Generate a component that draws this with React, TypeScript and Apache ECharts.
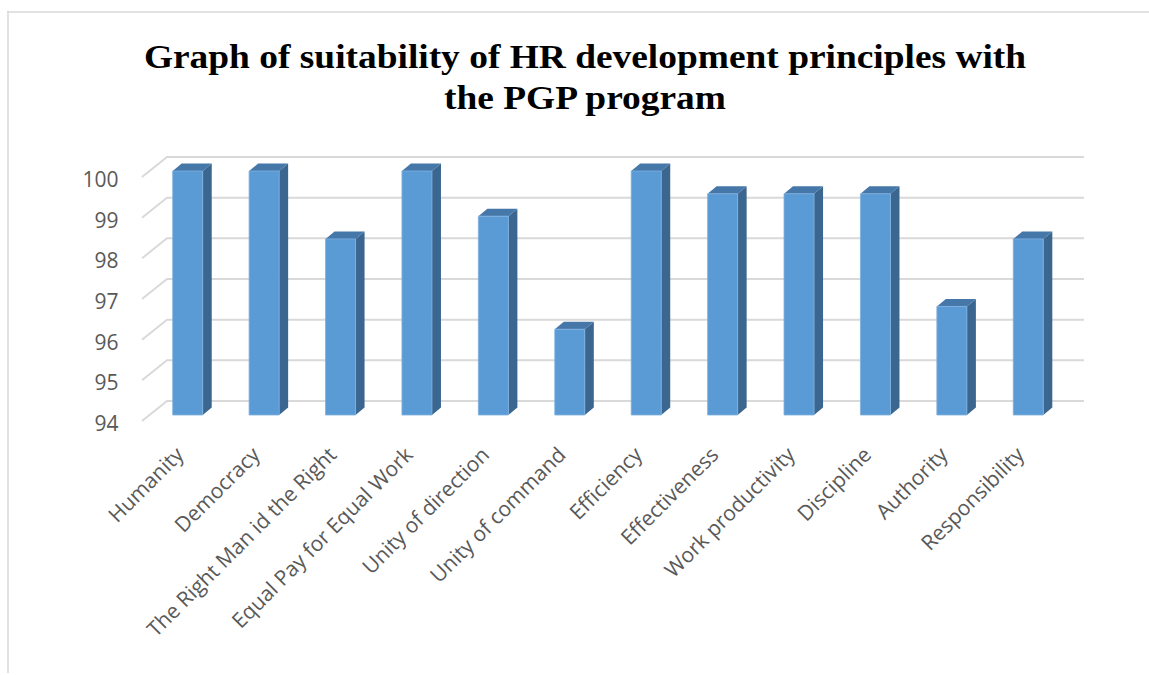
import React, { useEffect, useRef } from "react";
import * as echarts from "echarts";

const categories = [
  "Humanity",
  "Democracy",
  "The Right Man id the Right",
  "Equal Pay for Equal Work",
  "Unity of direction",
  "Unity of command",
  "Efficiency",
  "Effectiveness",
  "Work productivity",
  "Discipline",
  "Authority",
  "Responsibility",
];
const values = [100, 100, 98.33, 100, 98.89, 96.11, 100, 99.44, 99.44, 99.44, 96.67, 98.33];
const yTicks = [94, 95, 96, 97, 98, 99, 100];
const titleText = "Graph of suitability of HR development principles with\nthe PGP program";

const Y_MIN = 94;
const Y_MAX = 100;

export default function App() {
  const ref = useRef<HTMLDivElement>(null);
  useEffect(() => {
    if (!ref.current) return;
    const chart = echarts.init(ref.current, null, { renderer: "svg" });
    const DX = 9;
    const DY = -7.5;
    const option = {
      animation: false,
      backgroundColor: "#ffffff",
      grid: { left: 149.5, top: 171, width: 917, height: 244, containLabel: false },
      xAxis: {
        type: "category",
        data: categories,
        axisLine: { show: false },
        axisTick: { show: false },
        splitLine: { show: false },
        axisLabel: {
          interval: 0,
          rotate: 45,
          margin: 27,
          padding: [0, 12, 0, 0],
          color: "#595959",
          fontSize: 21,
          fontFamily: "Open Sans",
        },
      },
      yAxis: {
        type: "value",
        min: Y_MIN,
        max: Y_MAX,
        interval: 1,
        axisLine: { show: false },
        axisTick: { show: false },
        splitLine: { show: false },
        axisLabel: {
          margin: 31,
          color: "#595959",
          fontSize: 21,
          fontFamily: "Open Sans",
          verticalAlign: "top",
          lineHeight: 16,
        },
      },
      graphic: [
        {
          type: "line",
          shape: { x1: 7, y1: 12, x2: 1149, y2: 12 },
          style: { stroke: "#d9d9d9", lineWidth: 1.5 },
        },
        {
          type: "line",
          shape: { x1: 8, y1: 11, x2: 8, y2: 673 },
          style: { stroke: "#d9d9d9", lineWidth: 1.5 },
        },
        {
          type: "text",
          x: 585,
          y: 78,
          scaleX: 1.134,
          style: {
            text: titleText,
            fontFamily: "Liberation Serif",
            fontWeight: "bold",
            fontSize: 33,
            lineHeight: 41,
            align: "center",
            verticalAlign: "middle",
            fill: "#000000",
          },
        },
      ],
      series: [
        {
          type: "custom",
          z: 1,
          silent: true,
          data: yTicks.map((t) => [0, t]),
          renderItem: (params: any, api: any) => {
            const cs = params.coordSys;
            const y = api.coord([0, api.value(1)])[1];
            const left = cs.x;
            const right = cs.x + cs.width;
            return {
              type: "polyline",
              shape: {
                points: [
                  [left - 7.5, y + 6],
                  [left + 17.5, y - 14],
                  [right + 17.5, y - 14],
                ],
              },
              style: { stroke: "#d9d9d9", lineWidth: 2, fill: "none" },
            };
          },
        },
        {
          type: "custom",
          z: 2,
          data: values.map((v, i) => [i, v]),
          renderItem: (params: any, api: any) => {
            const p = api.coord([api.value(0), api.value(1)]);
            const b = api.coord([api.value(0), Y_MIN]);
            const w = api.size([1, 0])[0] * 0.393;
            const x0 = p[0] - w / 2;
            const x1 = p[0] + w / 2;
            const yT = p[1];
            const yB = b[1];
            return {
              type: "group",
              children: [
                {
                  type: "polygon",
                  shape: { points: [[x1, yT], [x1 + DX, yT + DY], [x1 + DX, yB + DY], [x1, yB]] },
                  style: { fill: "#3B6690" },
                },
                {
                  type: "polygon",
                  shape: { points: [[x0, yT], [x0 + DX, yT + DY], [x1 + DX, yT + DY], [x1, yT]] },
                  style: { fill: "#4577A8" },
                },
                {
                  type: "rect",
                  shape: { x: x0, y: yT, width: w, height: yB - yT },
                  style: { fill: "#5B9BD5", stroke: "#7FB0DE", lineWidth: 0.8 },
                },
              ],
            };
          },
        },
      ],
    };
    chart.setOption(option as any);
    return () => chart.dispose();
  }, []);
  return (
    <div
      ref={ref}
      style={{ position: "fixed", left: 0, top: 0, width: 1149, height: 675 }}
    />
  );
}
